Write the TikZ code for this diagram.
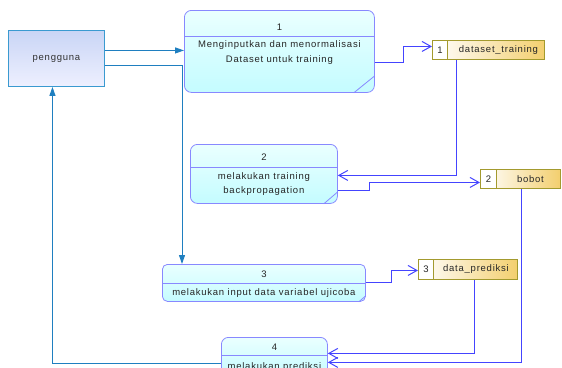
\documentclass[tikz,border=0pt]{standalone}
\usepackage{fontspec}
\setmainfont[LetterSpace=8]{Liberation Sans}
\usetikzlibrary{arrows.meta}

\definecolor{entline}{HTML}{3A9AD0}
\definecolor{enttop}{HTML}{C9D5F5}
\definecolor{entbot}{HTML}{EEF0FF}
\definecolor{procline}{HTML}{8888FF}
\definecolor{proctop}{HTML}{EAFFFF}
\definecolor{procbot}{HTML}{C4FCFF}
\definecolor{storeline}{HTML}{A39A2E}
\definecolor{storegold}{HTML}{F3CF6E}
\definecolor{flowin}{HTML}{1F7FC0}
\definecolor{flowout}{HTML}{4444FF}

\begin{document}
\begin{tikzpicture}[x=1pt, y=-1pt, font=\fontsize{9.5}{11}\selectfont,
    entity/.style={draw=entline, line width=0.9pt, top color=enttop, bottom color=entbot, anchor=north west, inner sep=0pt, text=black!80},
    proc/.style={draw=procline, line width=0.8pt, rounded corners=7pt, top color=proctop, bottom color=procbot, anchor=north west, inner sep=0pt},
    store/.style={draw=storeline, line width=0.9pt, left color=white, right color=storegold, anchor=north west, inner sep=0pt},
    storenum/.style={draw=storeline, line width=0.9pt, fill=white, anchor=north west, inner sep=0pt, text=black!85},
    txt/.style={inner sep=0pt, align=center, text=black!85},
    flowin/.style={draw=flowin, line width=1pt, -{Triangle[length=9pt,width=6pt]}},
    flowout/.style={draw=flowout, line width=1pt, -{Straight Barb[length=9pt,width=10pt]}}]
    \useasboundingbox (0,0) rectangle (562,367);
    \clip (0,0) rectangle (562,367);

    % External entity
    \node[entity, minimum width=96pt, minimum height=56pt] (pengguna) at (8,30) {pengguna};

    % Processes
    \node[proc, minimum width=190pt, minimum height=82pt] (proc1) at (184,10) {};
    \draw[procline, line width=0.8pt] ([yshift=-26pt]proc1.north west) -- ([yshift=-26pt]proc1.north east);
    \draw[procline, line width=0.8pt] ([xshift=-21pt]proc1.south east) -- ([yshift=17pt]proc1.south east);
    \node[txt] (proc1-num) at ([yshift=-17pt]proc1.north) {1};
    \node[txt, font=\fontsize{9.5}{15}\selectfont] (proc1-text) at ([yshift=-42.5pt]proc1.north) {Menginputkan dan menormalisasi\\Dataset untuk training};

    \node[proc, minimum width=147pt, minimum height=59pt] (proc2) at (190,144) {};
    \draw[procline, line width=0.8pt] ([yshift=-23pt]proc2.north west) -- ([yshift=-23pt]proc2.north east);
    \draw[procline, line width=0.8pt] ([xshift=-14pt]proc2.south east) -- ([yshift=12pt]proc2.south east);
    \node[txt] (proc2-num) at ([yshift=-13pt]proc2.north) {2};
    \node[txt, font=\fontsize{9.5}{14}\selectfont] (proc2-text) at ([yshift=-40pt]proc2.north) {melakukan training\\backpropagation};

    \node[proc, rounded corners=5pt, minimum width=203pt, minimum height=37pt] (proc3) at (162,264) {};
    \draw[procline, line width=0.8pt] ([yshift=-19pt]proc3.north west) -- ([yshift=-19pt]proc3.north east);
    \draw[procline, line width=0.8pt] ([xshift=-7pt]proc3.south east) -- ([yshift=6pt]proc3.south east);
    \node[txt] (proc3-num) at ([yshift=-10pt]proc3.north) {3};
    \node[txt] (proc3-text) at ([yshift=-29pt]proc3.north) {melakukan input data variabel ujicoba};

    \node[proc, minimum width=106pt, minimum height=40pt] (proc4) at (221,337) {};
    \draw[procline, line width=0.8pt] ([yshift=-18pt]proc4.north west) -- ([yshift=-18pt]proc4.north east);
    \node[txt] (proc4-num) at ([yshift=-10pt]proc4.north) {4};
    \node[txt] (proc4-text) at ([yshift=-30pt]proc4.north) {melakukan prediksi};

    % Data stores
    \node[store, minimum width=112pt, minimum height=19pt] (store1) at (432,40) {};
    \node[storenum, minimum width=15pt, minimum height=19pt] (store1-num) at (432,40) {1};
    \node[txt] (store1-label) at ([xshift=10pt]store1.center) {dataset\_training};

    \node[store, minimum width=80pt, minimum height=19pt] (store2) at (480,169) {};
    \node[storenum, minimum width=16pt, minimum height=19pt] (store2-num) at (480,169) {2};
    \node[txt] (store2-label) at ([xshift=10pt]store2.center) {bobot};

    \node[store, minimum width=99pt, minimum height=20pt] (store3) at (418,259) {};
    \node[storenum, minimum width=15pt, minimum height=20pt] (store3-num) at (418,259) {3};
    \node[txt] (store3-label) at ([xshift=8pt]store3.center) {data\_prediksi};

    % Flows
    \draw[flowin] ([yshift=8pt]pengguna.east) -- ([yshift=8pt]pengguna.east -| proc1.west);
    \draw[flowin] ([yshift=-7pt]pengguna.east) -| ([xshift=20pt]proc3.north west);
    \draw[flowin] ([yshift=-6pt]proc4.west) -| ([xshift=-4pt]pengguna.south);

    \draw[flowout] ([yshift=-11pt]proc1.east) -- ++(29,0) |- ([yshift=3.5pt]store1.west);
    \draw[flowout] ([xshift=-32pt]store1.south) |- ([yshift=-1.5pt]proc2.east);
    \draw[flowout] ([yshift=-16.5pt]proc2.east) -- ++(32,0) |- ([yshift=-3.5pt]store2.west);
    \draw[flowout] ([xshift=1pt]store2.south) |- ([yshift=-5pt]proc4.east);
    \draw[flowout] (proc3.east) -- ++(26,0) |- ([yshift=-1pt]store3.west);
    \draw[flowout] ([xshift=6.5pt]store3.south) |- ([yshift=4pt]proc4.east);

\end{tikzpicture}
\end{document}
